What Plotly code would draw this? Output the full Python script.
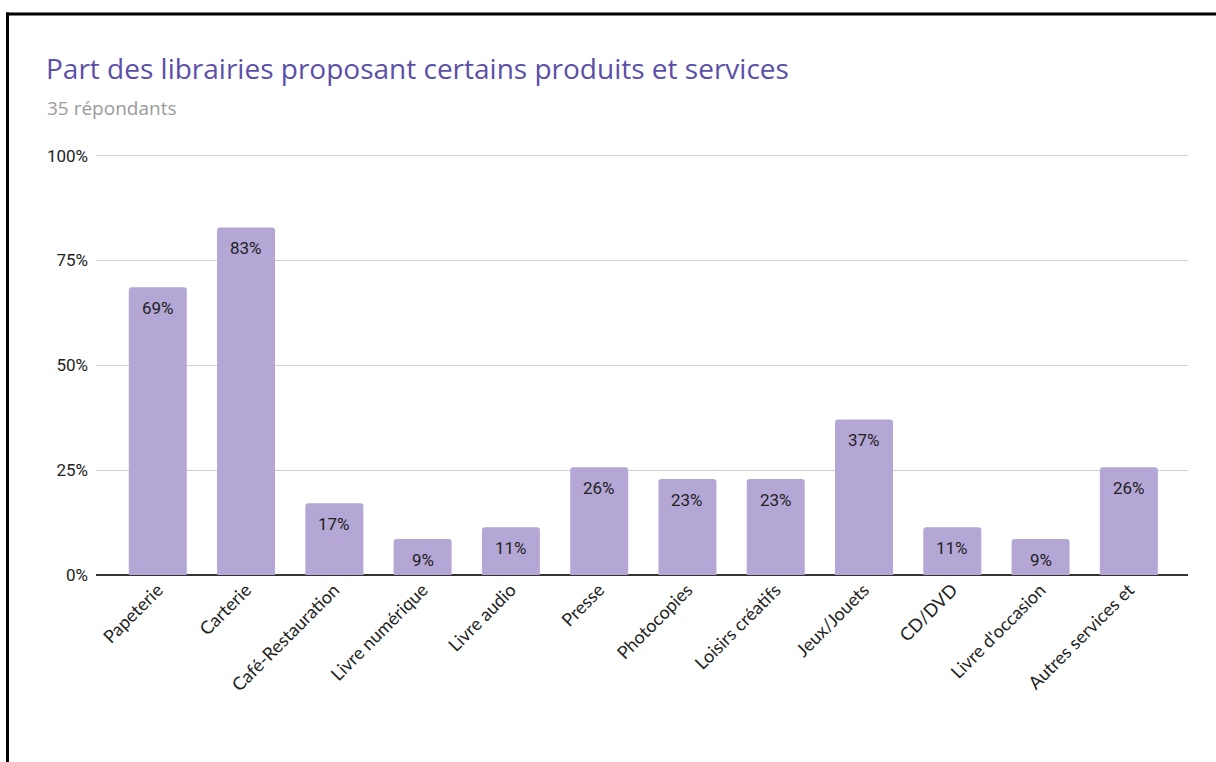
import plotly.graph_objects as go

categories = ["Papeterie", "Carterie", "Café-Restauration", "Livre numérique", "Livre audio",
              "Presse", "Photocopies", "Loisirs créatifs", "Jeux/Jouets", "CD/DVD",
              "Livre d'occasion", "Autres services et"]
values = [68.6, 82.9, 17.1, 8.6, 11.4, 25.7, 22.9, 22.9, 37.1, 11.4, 8.6, 25.7]
ytick_vals = [0, 25, 50, 75, 100]
ytick_text = ["0%", "25%", "50%", "75%", "100%"]

W, H = 1216, 762
YMAX = 100.4
L, R, B = 96, 1188, 575
T = B - (B - 156) * YMAX / 100  # plot area top

def px_x(px):
    return (px - L) / (R - L)

def px_y(py):
    return (B - py) / (B - T)

fig = go.Figure(go.Bar(
    x=categories, y=values,
    marker=dict(color="#b4a7d6", line=dict(width=0), cornerradius=3),
    hoverinfo="x+y",
))

label_annotations = [
    dict(x=c, y=v, xref="x", yref="y", text=f"{round(v)}%", showarrow=False,
         xanchor="center", yanchor="middle", yshift=-21,
         font=dict(family="Roboto", size=17, color="#222222"))
    for c, v in zip(categories, values)
]

fig.update_layout(
    width=W, height=H,
    margin=dict(l=L, r=W - R, t=T, b=H - B),
    plot_bgcolor="white", paper_bgcolor="white",
    bargap=0.343,
    showlegend=False,
    title=dict(text="Part des librairies proposant certains produits et services",
               x=46 / W, xanchor="left", xref="container",
               y=1 - 69 / H, yanchor="middle", yref="container",
               font=dict(family="Open Sans", size=28, color="#5b4fa8")),
    annotations=[dict(text="35 répondants", x=px_x(45), y=px_y(108), xref="paper", yref="paper",
                      xanchor="left", yanchor="middle", showarrow=False,
                      font=dict(family="Open Sans", size=19, color="#9a9a9a"))] + label_annotations,
    shapes=[
        dict(type="line", xref="paper", yref="paper", x0=px_x(6), x1=px_x(1230),
             y0=px_y(14.5), y1=px_y(14.5), line=dict(color="black", width=3)),
        dict(type="line", xref="paper", yref="paper", x0=px_x(7.5), x1=px_x(7.5),
             y0=px_y(13), y1=px_y(780), line=dict(color="black", width=3)),
    ],
)

fig.update_xaxes(range=[-0.7, 11.67], tickangle=-45, showgrid=False, showline=False,
                 ticks="", tickfont=dict(family="Lato", size=18, color="#222222"),
                 zeroline=False)
fig.update_yaxes(range=[0, YMAX], tickvals=ytick_vals, ticktext=ytick_text,
                 showgrid=True, gridcolor="#d0d0d0", gridwidth=1,
                 zeroline=True, zerolinecolor="#333333", zerolinewidth=1.5,
                 showline=False, ticks="", ticklabelstandoff=7,
                 tickfont=dict(family="Roboto", size=17, color="#222222"))

fig.write_html("out.html", config={"displayModeBar": False},
               post_script="document.body.style.margin='0';")
